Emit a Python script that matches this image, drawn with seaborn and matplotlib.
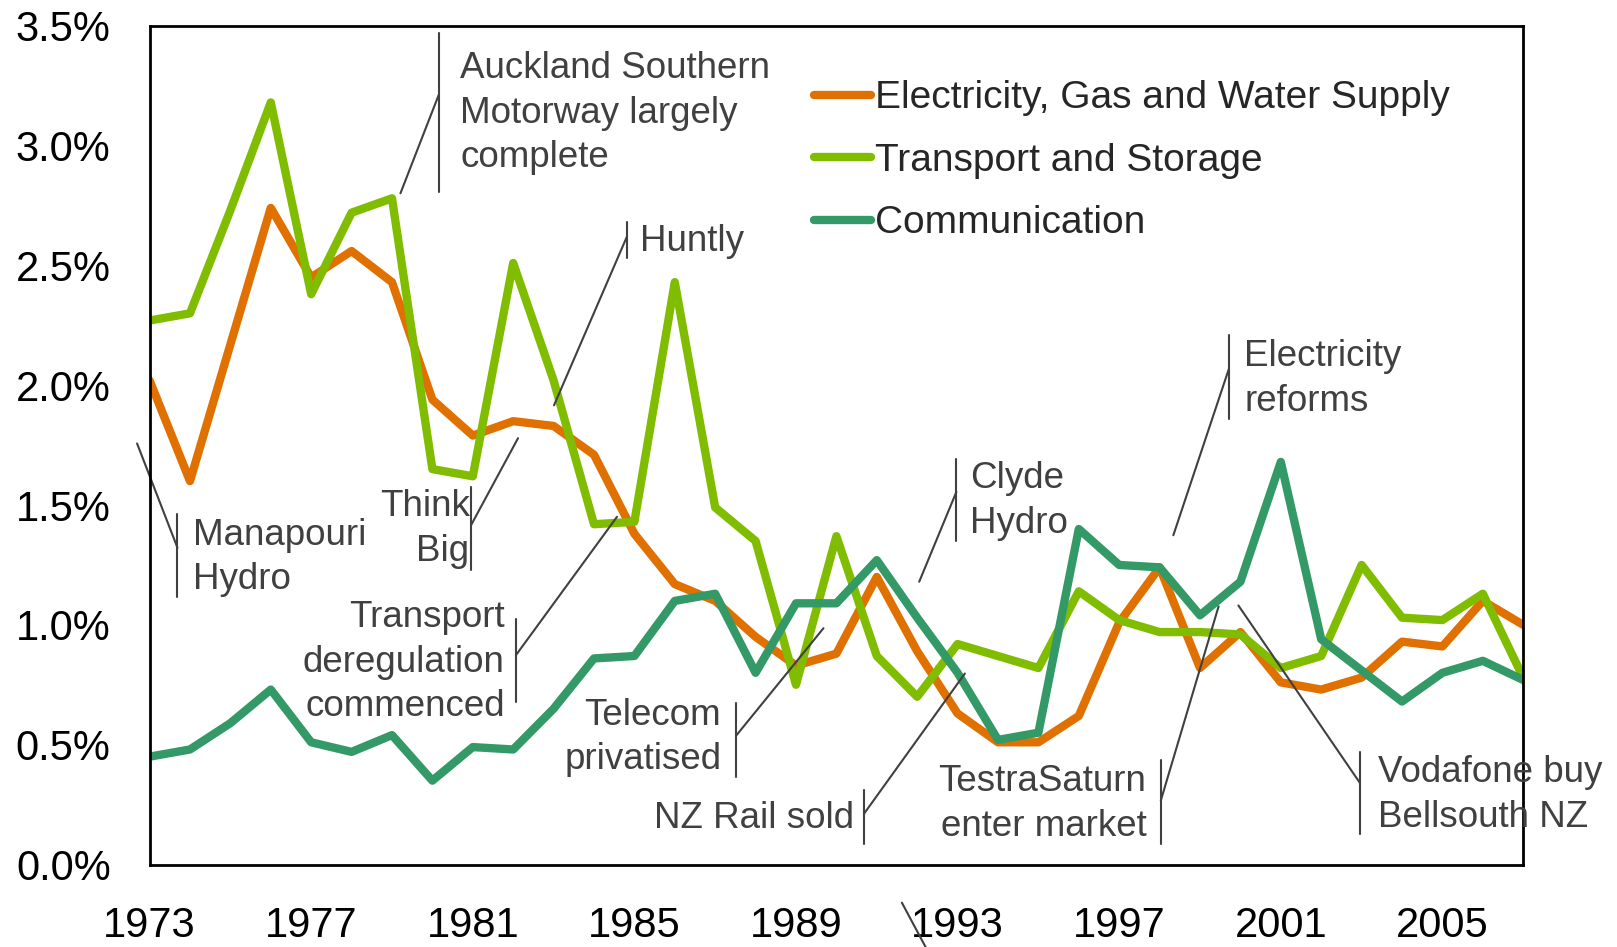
import numpy as np
import pandas as pd
import matplotlib
matplotlib.use("Agg")
import matplotlib.pyplot as plt
from matplotlib.ticker import FuncFormatter, MultipleLocator
import seaborn as sns

years = list(range(1973, 2008))

electricity = [2.02, 1.60, 2.17, 2.74, 2.45, 2.56, 2.43, 1.94, 1.79, 1.85,
               1.83, 1.71, 1.38, 1.17, 1.10, 0.95, 0.83, 0.88, 1.20, 0.89,
               0.63, 0.51, 0.51, 0.62, 1.01, 1.24, 0.82, 0.97, 0.76, 0.73,
               0.78, 0.93, 0.91, 1.10, 1.00]
transport = [2.27, 2.30, 2.73, 3.18, 2.38, 2.72, 2.78, 1.65, 1.62, 2.51,
             2.02, 1.42, 1.43, 2.43, 1.49, 1.35, 0.75, 1.37, 0.87, 0.70,
             0.92, 0.87, 0.82, 1.14, 1.02, 0.97, 0.97, 0.96, 0.82, 0.87,
             1.25, 1.03, 1.02, 1.13, 0.78]
communication = [0.45, 0.48, 0.59, 0.73, 0.51, 0.47, 0.54, 0.35, 0.49, 0.48,
                 0.65, 0.86, 0.87, 1.10, 1.13, 0.80, 1.09, 1.09, 1.27, 1.03,
                 0.80, 0.52, 0.55, 1.40, 1.25, 1.24, 1.04, 1.18, 1.68, 0.94,
                 0.81, 0.68, 0.80, 0.85, 0.77]

x_ticks = list(range(1973, 2008, 4))

series_names = ["Electricity, Gas and Water Supply", "Transport and Storage", "Communication"]
palette = {
    "Electricity, Gas and Water Supply": "#E07000",
    "Transport and Storage": "#80BC00",
    "Communication": "#339966",
}

# annotations: text, text x, text y, ha, bar x, bar y0, bar y1, leader start y, leader end (x, y)
annotations = [
    ("Auckland Southern\nMotorway largely\ncomplete", 1980.69, 3.135, "left", 1980.16, 2.808, 3.471, 3.213, 1979.21, 2.801),
    ("Huntly", 1985.13, 2.601, "left", 1984.81, 2.532, 2.683, 2.618, 1983.01, 1.916),
    ("Manapouri\nHydro", 1974.07, 1.281, "left", 1973.69, 1.115, 1.464, 1.322, 1972.69, 1.757),
    ("Think\nBig", 1980.92, 1.400, "right", 1980.96, 1.227, 1.576, 1.417, 1982.12, 1.779),
    ("Transport\nderegulation\ncommenced", 1981.79, 0.844, "right", 1982.07, 0.680, 1.025, 0.874, 1984.57, 1.451),
    ("Telecom\nprivatised", 1987.15, 0.530, "right", 1987.52, 0.366, 0.672, 0.538, 1989.68, 0.986),
    ("NZ Rail sold", 1990.45, 0.194, "right", 1990.68, 0.086, 0.310, 0.211, 1993.18, 0.797),
    ("Clyde\nHydro", 1993.31, 1.518, "left", 1992.97, 1.352, 1.693, 1.555, 1992.05, 1.180),
    ("Electricity\nreforms", 2000.10, 2.026, "left", 1999.72, 1.860, 2.209, 2.071, 1998.34, 1.374),
    ("TestraSaturn\nenter market", 1997.67, 0.252, "right", 1998.03, 0.086, 0.435, 0.267, 1999.46, 1.077),
    ("Vodafone buy\nBellsouth NZ", 2003.40, 0.291, "left", 2002.96, 0.129, 0.469, 0.340, 1999.95, 1.081),
]

df = pd.DataFrame({
    "year": years * 3,
    "value": electricity + transport + communication,
    "series": [series_names[0]] * len(years) + [series_names[1]] * len(years) + [series_names[2]] * len(years),
})

sns.set_style("white")
plt.rcParams["font.family"] = ["Liberation Sans", "DejaVu Sans"]

fig = plt.figure(figsize=(16.17, 9.47), dpi=100)
ax = fig.add_axes([0.0925, 0.0871, 0.8495, 0.8857])

sns.lineplot(data=df, x="year", y="value", hue="series", hue_order=series_names,
             palette=palette, linewidth=6, ax=ax, legend=True)

ax.set_xlim(1973, 2007)
ax.set_ylim(0, 3.5)
ax.set_xticks(x_ticks)
ax.yaxis.set_major_locator(MultipleLocator(0.5))
ax.yaxis.set_major_formatter(FuncFormatter(lambda v, p: f"{v:.1f}%"))
ax.set_xlabel("")
ax.set_ylabel("")
ax.tick_params(axis="both", direction="in", length=9, width=2, colors="black", labelsize=30)
ax.tick_params(axis="y", pad=28)
ax.tick_params(axis="x", pad=30)
for s in ax.spines.values():
    s.set_visible(True)
    s.set_color("black")
    s.set_linewidth(2)

leg = ax.legend(loc="upper left", bbox_to_anchor=(0.484, 0.935), frameon=False,
                fontsize=28, handlelength=1.45, handletextpad=0.1, labelspacing=0.68,
                borderpad=0, borderaxespad=0)
for h in leg.get_lines():
    h.set_linewidth(6)
    h.set_solid_capstyle("round")

grey = "#404040"
for txt, tx, ty, ha, bx, by0, by1, ly, ex, ey in annotations:
    ax.text(tx, ty, txt, ha=ha, va="center", fontsize=26.5, color=grey, linespacing=1.36, clip_on=False)
    ax.plot([bx, bx], [by0, by1], color=grey, lw=1.5, clip_on=False)
    ax.plot([bx, ex], [ly, ey], color=grey, lw=1.5, clip_on=False)

# stray leader below the axis near 1993
ax.plot([1991.62, 1992.21], [-0.159, -0.345], color=grey, lw=1.5, clip_on=False)

fig.savefig("out.png", dpi=100)
